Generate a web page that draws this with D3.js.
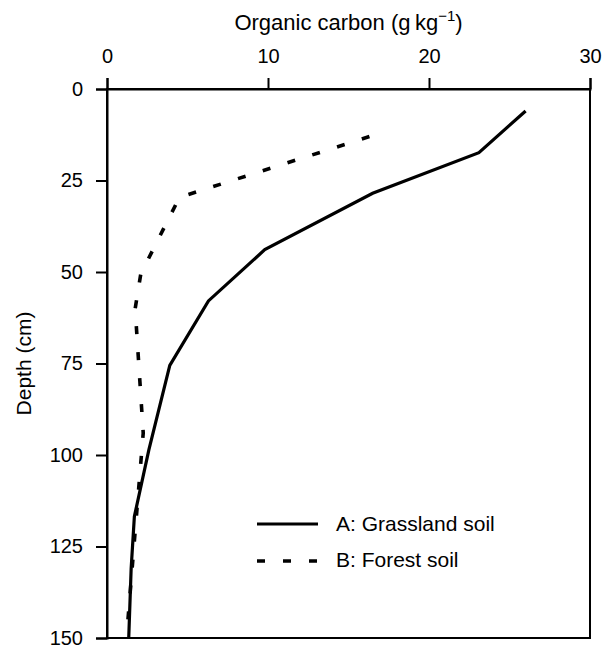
<!DOCTYPE html>
<html>
<head>
<meta charset="utf-8">
<script src="https://cdn.jsdelivr.net/npm/d3@7"></script>
<style>
  html, body { margin: 0; padding: 0; background: #fff; }
  svg { display: block; }
  text { font-family: "Liberation Sans", Arial, Helvetica, sans-serif; fill: #000; }
</style>
</head>
<body>
<script>
// ---- data ----
const xTicks = [0, 10, 20, 30];
const yTicks = [0, 25, 50, 75, 100, 125, 150];

const grassDepth = [6, 17.4, 28.5, 43.9, 57.9, 75.5, 98.6, 116.8, 131, 150];
const grassCarbon = [26.0, 23.1, 16.5, 9.8, 6.3, 3.9, 2.6, 1.7, 1.5, 1.35];

const forestDepth = [13, 29.6, 50.5, 60, 94, 145];
const forestCarbon = [16.3, 4.5, 2.1, 1.75, 2.25, 1.3];

const seriesNames = ["A: Grassland soil", "B: Forest soil"];

// ---- layout ----
const W = 614, H = 646;
const mLeft = 107, mRight = 590, mTop = 89, mBottom = 638;

const svg = d3.select("body").append("svg").attr("width", W).attr("height", H);

const x = d3.scaleLinear().domain([0, 30]).range([mLeft, mRight]);
const y = d3.scaleLinear().domain([0, 150]).range([mTop, mBottom]);

// frame
svg.append("rect")
  .attr("x", mLeft).attr("y", mTop)
  .attr("width", mRight - mLeft).attr("height", mBottom - mTop)
  .attr("fill", "none").attr("stroke", "#000").attr("stroke-width", 2);

// top axis
const xAxis = d3.axisTop(x).tickValues(xTicks).tickSize(11).tickPadding(15).tickFormat(d3.format("d"));
const gx = svg.append("g").attr("transform", `translate(0,${mTop})`).call(xAxis);
gx.select(".domain").attr("stroke-width", 2);
gx.selectAll(".tick line").attr("stroke-width", 2);
gx.selectAll("text").attr("font-size", 20).style("font-family", "Liberation Sans, Arial, sans-serif");

// left axis
const yAxis = d3.axisLeft(y).tickValues(yTicks).tickSize(11).tickPadding(13).tickFormat(d3.format("d"));
const gy = svg.append("g").attr("transform", `translate(${mLeft},0)`).call(yAxis);
gy.select(".domain").attr("stroke-width", 2);
gy.selectAll(".tick line").attr("stroke-width", 2);
gy.selectAll("text").attr("font-size", 20).style("font-family", "Liberation Sans, Arial, sans-serif");

// axis titles
const xt = svg.append("text")
  .attr("x", (mLeft + mRight) / 2).attr("y", 30)
  .attr("text-anchor", "middle").attr("font-size", 22);
xt.append("tspan").text("Organic carbon (g\u2009kg");
xt.append("tspan").attr("dy", -9).attr("font-size", 15).text("\u22121");
xt.append("tspan").attr("dy", 9).text(")");

svg.append("text")
  .attr("transform", `translate(31,${(mTop + mBottom) / 2}) rotate(-90)`)
  .attr("text-anchor", "middle").attr("font-size", 21)
  .text("Depth (cm)");

// lines
const line = d3.line().x(d => x(d[0])).y(d => y(d[1]));
const grass = grassCarbon.map((c, i) => [c, grassDepth[i]]);
const forest = forestCarbon.map((c, i) => [c, forestDepth[i]]);

svg.append("path").datum(grass).attr("d", line)
  .attr("fill", "none").attr("stroke", "#000").attr("stroke-width", 3.2)
  .attr("stroke-linejoin", "miter");

svg.append("path").datum(forest).attr("d", line)
  .attr("fill", "none").attr("stroke", "#000").attr("stroke-width", 3.6)
  .attr("stroke-dasharray", "8 18");

// legend
const lg = svg.append("g");
lg.append("line").attr("x1", 257).attr("x2", 318).attr("y1", 524).attr("y2", 524)
  .attr("stroke", "#000").attr("stroke-width", 3.2);
lg.append("line").attr("x1", 257).attr("x2", 318).attr("y1", 561).attr("y2", 561)
  .attr("stroke", "#000").attr("stroke-width", 3.6).attr("stroke-dasharray", "8 18");
lg.append("text").attr("x", 336).attr("y", 531).attr("font-size", 21).text(seriesNames[0]);
lg.append("text").attr("x", 336).attr("y", 567).attr("font-size", 21).text(seriesNames[1]);
</script>
</body>
</html>
